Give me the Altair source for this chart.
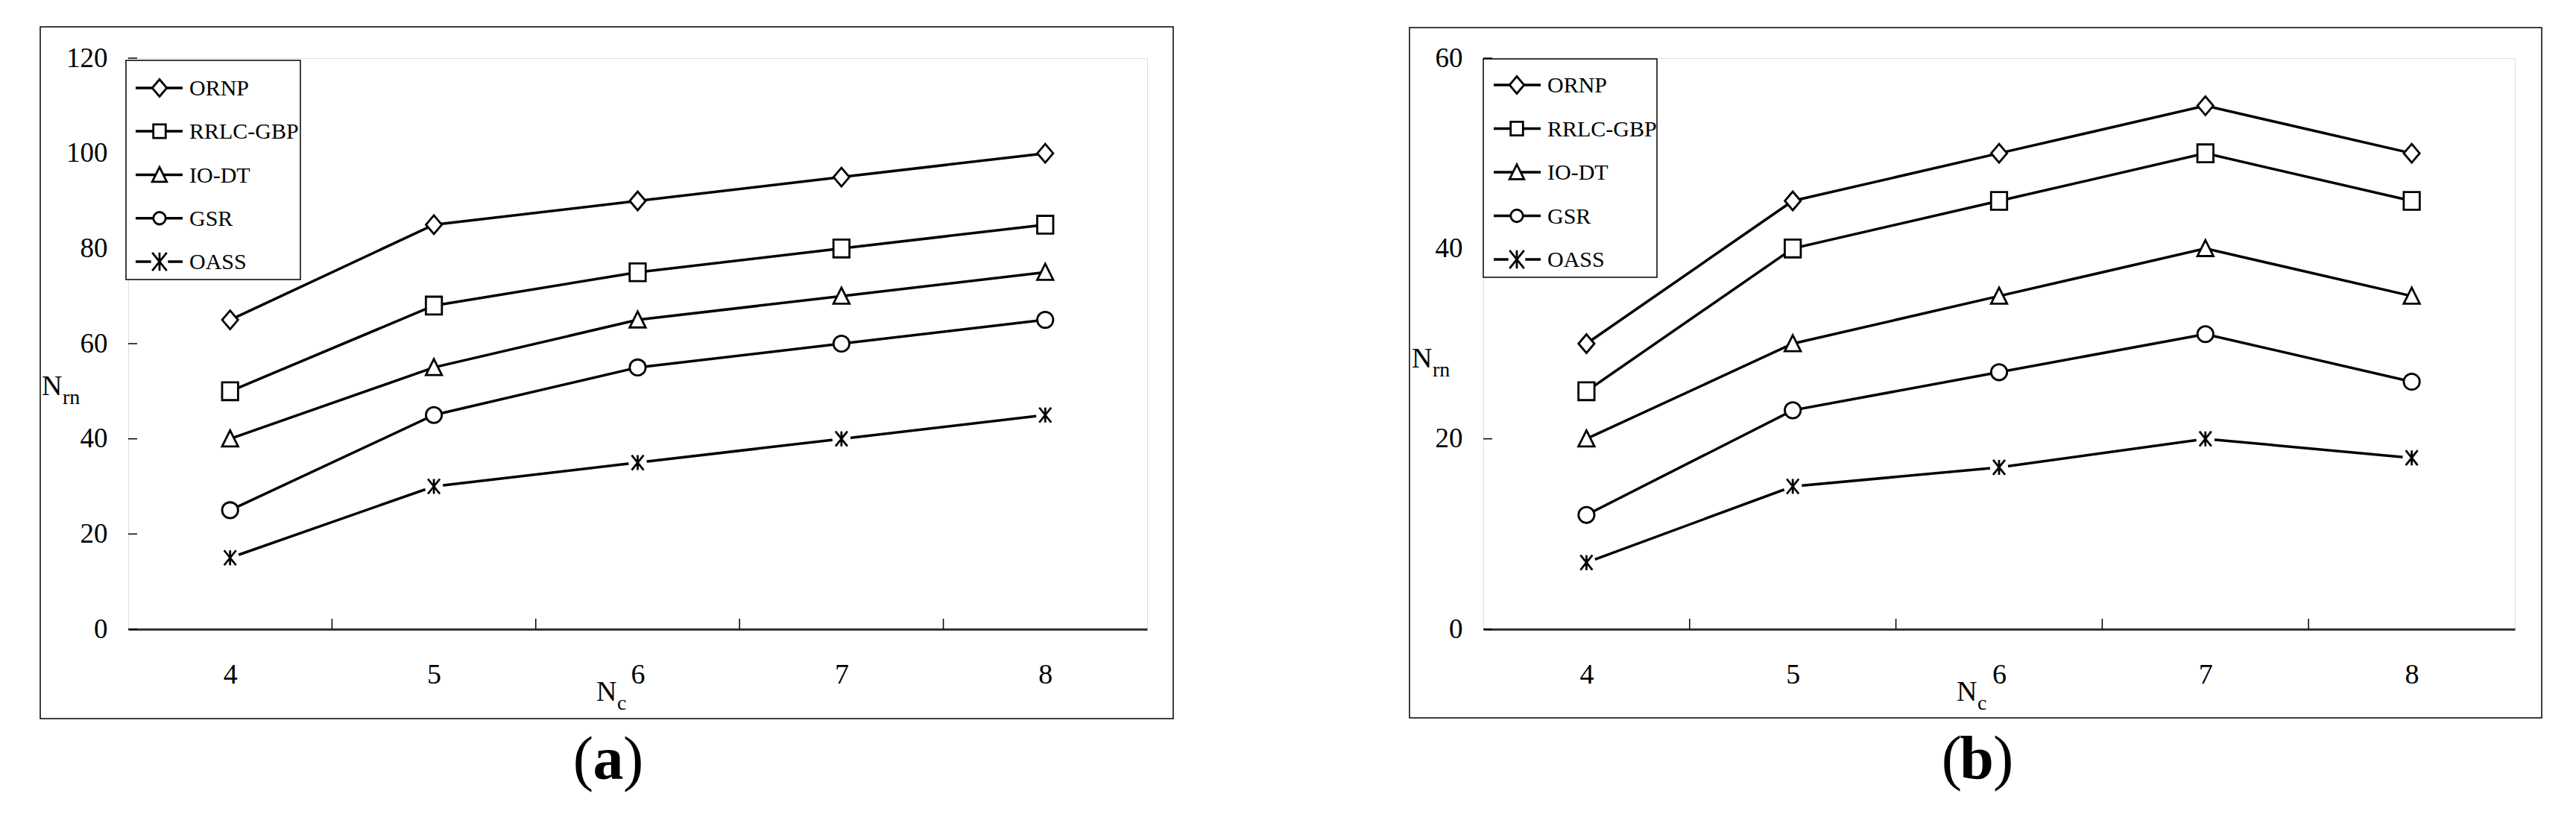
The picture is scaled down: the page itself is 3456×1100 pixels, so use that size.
import altair as alt
import pandas as pd

# ---------------- data ----------------
series = ["ORNP", "RRLC-GBP", "IO-DT", "GSR", "OASS"]
nc = [4, 5, 6, 7, 8]

a_ornp = [65, 85, 90, 95, 100]
a_rrlc = [50, 68, 75, 80, 85]
a_iodt = [40, 55, 65, 70, 75]
a_gsr = [25, 45, 55, 60, 65]
a_oass = [15, 30, 35, 40, 45]

b_ornp = [30, 45, 50, 55, 50]
b_rrlc = [25, 40, 45, 50, 45]
b_iodt = [20, 30, 35, 40, 35]
b_gsr = [12, 23, 27, 31, 26]
b_oass = [7, 15, 17, 20, 18]

a_yticks = [0, 20, 40, 60, 80, 100, 120]
b_yticks = [0, 20, 40, 60]
x_bounds = [4.5, 5.5, 6.5, 7.5]
x_domain = [3.5, 8.5]

# ---------------- styles ----------------
FONT = "Liberation Serif"
SHAPES = [
    "M0,-1L0.85,0L0,1L-0.85,0Z",                 # diamond
    "M-0.9,-1L0.9,-1L0.9,1L-0.9,1Z",             # square
    "M0,-1L0.95,0.9L-0.95,0.9Z",                 # triangle
    "circle",                                    # circle
    "M-0.8,-1L0.8,1M0.8,-1L-0.8,1M0,-1L0,1",     # asterisk
]
SIZES = [625, 400, 500, 320, 700]
LINE_W = 3.5
MARK_W = 2.8


def one():
    return alt.InlineData(values=[{"k": 1}])


def make_panel(vals, yticks, ymax, W, H, geo):
    rows = []
    for s, v in zip(series, vals):
        for x, y in zip(nc, v):
            rows.append({"series": s, "nc": x, "v": y})
    df = pd.DataFrame(rows)

    xs = alt.Scale(domain=x_domain, nice=False, zero=False)
    ys = alt.Scale(domain=[0, ymax], nice=False, zero=True)

    layers = []
    # outer frame box
    layers.append(alt.Chart(one()).mark_rect(fillOpacity=0, stroke="black", strokeWidth=1.5).encode(
        x=alt.value(geo["box"][0]), x2=alt.value(geo["box"][1]),
        y=alt.value(geo["box"][2]), y2=alt.value(geo["box"][3])))

    # lines
    layers.append(alt.Chart(df).mark_line(color="black", strokeWidth=LINE_W).encode(
        x=alt.X("nc:Q", scale=xs, axis=alt.Axis(values=nc, title=None, grid=False, ticks=False, tickSize=0,
                                                 labelFont=FONT, labelFontSize=38, labelColor="black",
                                                 labelPadding=61, labelBaseline="middle", labelFlush=False,
                                                 labelOverlap=False, domain=True, domainColor="#333333",
                                                 domainWidth=3, format="d")),
        y=alt.Y("v:Q", scale=ys, axis=alt.Axis(values=yticks, title=None, grid=False, ticks=False, tickSize=0,
                                                labelFont=FONT, labelFontSize=37, labelColor="black",
                                                labelPadding=28, labelBaseline="middle", labelFlush=False,
                                                labelOverlap=False, domain=False, format="d")),
        detail="series:N",
    ))

    # inward ticks
    layers.append(alt.Chart(pd.DataFrame({"t": yticks})).mark_rule(color="black", strokeWidth=1.5).encode(
        y=alt.Y("t:Q", scale=ys), x=alt.value(0), x2=alt.value(12)))
    layers.append(alt.Chart(pd.DataFrame({"b": x_bounds})).mark_rule(color="black", strokeWidth=1.5).encode(
        x=alt.X("b:Q", scale=xs), y=alt.value(H - 14), y2=alt.value(H)))

    # white gap behind asterisks
    layers.append(alt.Chart(df[df.series == "OASS"]).mark_point(
        filled=True, color="white", opacity=1, size=600, shape="circle").encode(
        x=alt.X("nc:Q", scale=xs), y=alt.Y("v:Q", scale=ys)))

    # markers
    layers.append(alt.Chart(df).mark_point(fill="white", fillOpacity=1, stroke="black", strokeWidth=MARK_W,
                                           opacity=1).encode(
        x=alt.X("nc:Q", scale=xs), y=alt.Y("v:Q", scale=ys),
        shape=alt.Shape("series:N", scale=alt.Scale(domain=series, range=SHAPES), legend=None),
        size=alt.Size("series:N", scale=alt.Scale(domain=series, range=SIZES), legend=None),
    ))

    # legend
    lx0, lx1, ly0, ly1 = geo["legbox"]
    layers.append(alt.Chart(one()).mark_rect(fill="white", stroke="black", strokeWidth=1.5).encode(
        x=alt.value(lx0), x2=alt.value(lx1), y=alt.value(ly0), y2=alt.value(ly1)))
    sx0, sx1, mx, tx = geo["legsym"]
    for i, s in enumerate(series):
        ly = geo["legy"][i]
        layers.append(alt.Chart(one()).mark_rule(color="black", strokeWidth=LINE_W).encode(
            x=alt.value(sx0), x2=alt.value(sx1), y=alt.value(ly)))
        if s == "OASS":
            layers.append(alt.Chart(one()).mark_point(filled=True, color="white", opacity=1, size=520,
                                                      shape="circle").encode(
                x=alt.value(mx), y=alt.value(ly)))
        layers.append(alt.Chart(one()).mark_point(fill="white", fillOpacity=1, stroke="black", strokeWidth=MARK_W,
                                                  opacity=1, shape=SHAPES[i], size=SIZES[i] * 0.85).encode(
            x=alt.value(mx), y=alt.value(ly)))
        layers.append(alt.Chart(one()).mark_text(font=FONT, fontSize=30, align="left", baseline="middle",
                                                 color="black").encode(
            x=alt.value(tx), y=alt.value(ly + 1), text=alt.value(s)))

    # axis titles N_rn and N_c
    nx, nb = geo["ytitle"]
    layers.append(alt.Chart(one()).mark_text(font=FONT, fontSize=38, align="left", baseline="alphabetic",
                                             color="black").encode(x=alt.value(nx), y=alt.value(nb),
                                                                   text=alt.value("N")))
    layers.append(alt.Chart(one()).mark_text(font=FONT, fontSize=28, align="left", baseline="alphabetic",
                                             color="black").encode(x=alt.value(nx + 28), y=alt.value(nb + 12),
                                                                   text=alt.value("rn")))
    cx, cb = geo["xtitle"]
    layers.append(alt.Chart(one()).mark_text(font=FONT, fontSize=38, align="left", baseline="alphabetic",
                                             color="black").encode(x=alt.value(cx), y=alt.value(cb),
                                                                   text=alt.value("N")))
    layers.append(alt.Chart(one()).mark_text(font=FONT, fontSize=28, align="left", baseline="alphabetic",
                                             color="black").encode(x=alt.value(cx + 28), y=alt.value(cb + 12),
                                                                   text=alt.value("c")))

    # caption (a)/(b)
    pr, lc, pl, cbase = geo["cap"]
    layers.append(alt.Chart(one()).mark_text(font=FONT, fontSize=82, align="right", baseline="alphabetic",
                                             color="black").encode(x=alt.value(pr), y=alt.value(cbase),
                                                                   text=alt.value("(")))
    layers.append(alt.Chart(one()).mark_text(font=FONT, fontSize=82, fontWeight="bold", align="center",
                                             baseline="alphabetic", color="black").encode(
        x=alt.value(lc), y=alt.value(cbase), text=alt.value(geo["letter"])))
    layers.append(alt.Chart(one()).mark_text(font=FONT, fontSize=82, align="left", baseline="alphabetic",
                                             color="black").encode(x=alt.value(pl), y=alt.value(cbase),
                                                                   text=alt.value(")")))

    return alt.layer(*layers).properties(width=W, height=H)


geo_a = {
    "box": [-118, 1402, -42, 886],
    "legbox": [-3, 231, 3, 297],
    "legsym": [10, 73, 42, 82],
    "legy": [40, 98, 156.5, 214.75, 273],
    "ytitle": [-116, 452],
    "xtitle": [628, 862],
    "cap": [624, 644, 664, 967],
    "letter": "a",
}
geo_b = {
    "box": [-99, 1420, -41, 885],
    "legbox": [0, 233, 1, 294],
    "legsym": [14, 77, 45, 86],
    "legy": [36, 94.5, 153, 211.5, 270],
    "ytitle": [-96, 415],
    "xtitle": [635, 862],
    "cap": [642, 662, 684, 966],
    "letter": "b",
}

panel_a = make_panel([a_ornp, a_rrlc, a_iodt, a_gsr, a_oass], a_yticks, 120, 1367, 766, geo_a)
panel_b = make_panel([b_ornp, b_rrlc, b_iodt, b_gsr, b_oass], b_yticks, 60, 1384, 766, geo_b)

chart = alt.hconcat(panel_a, panel_b, spacing=313).properties(
    padding={"left": 44, "top": 26, "right": 10, "bottom": 10}
).configure_view(stroke="#808080", strokeWidth=3).configure(background="white")

chart.save("out.html", embed_options={"renderer": "svg", "actions": False})
